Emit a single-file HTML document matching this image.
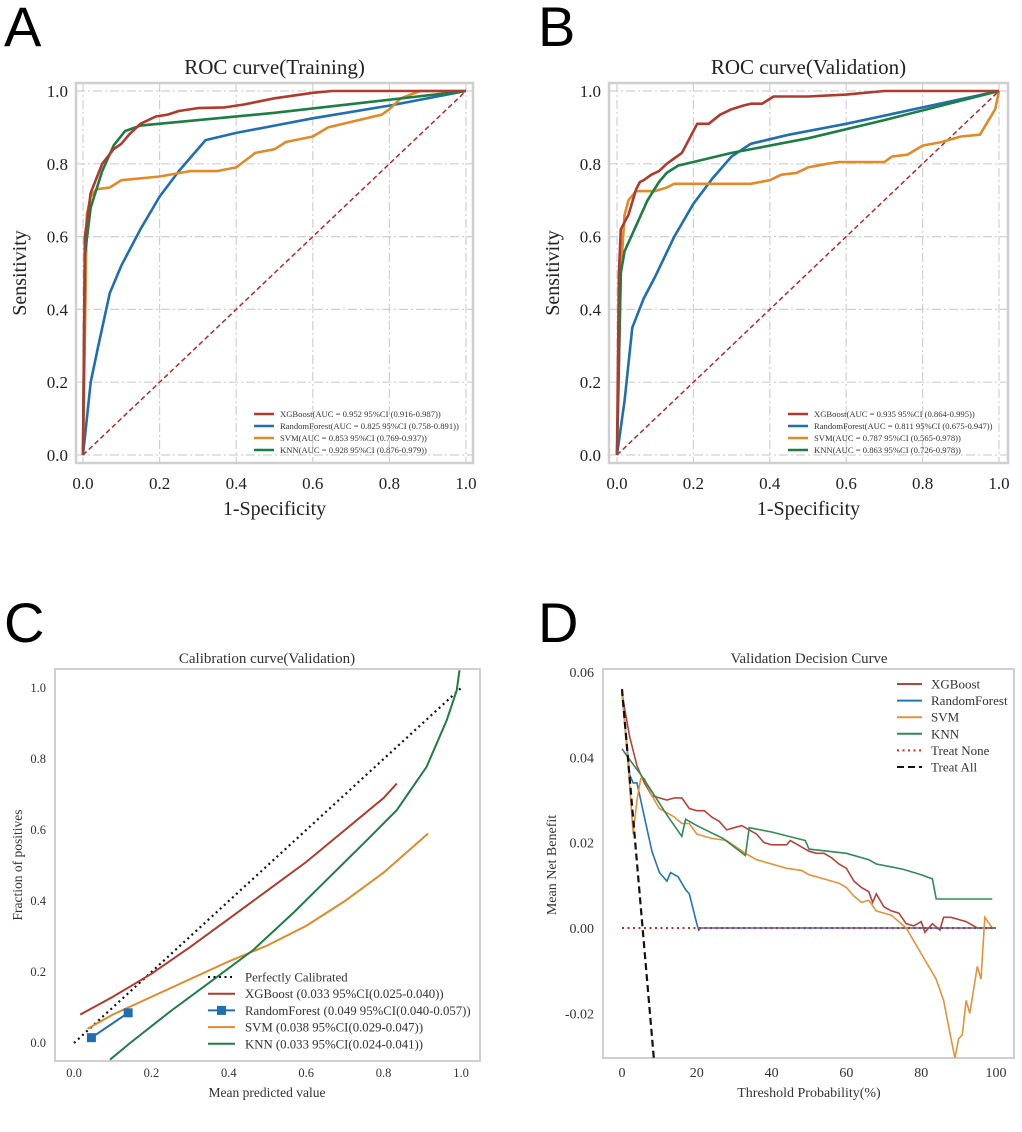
<!DOCTYPE html>
<html><head><meta charset="utf-8"><style>
body{margin:0;background:#fff;width:1022px;height:1132px;overflow:hidden}
svg{display:block;font-family:"Liberation Serif",serif}
</style></head><body>
<svg id="fig" width="1022" height="1132" viewBox="0 0 1022 1132"></svg>
<script>
// ---- Data arrays ----
const rocTicks=[0,0.2,0.4,0.6,0.8,1.0];
const rocTickLabels=["0.0","0.2","0.4","0.6","0.8","1.0"];
const aXGB_x=[0,0.005,0.02,0.05,0.08,0.1,0.12,0.15,0.19,0.22,0.25,0.3,0.37,0.42,0.5,0.6,0.65,1];
const aXGB_y=[0,0.6,0.72,0.8,0.84,0.855,0.88,0.91,0.93,0.935,0.945,0.953,0.955,0.963,0.98,0.995,1,1];
const aRF_x=[0,0.02,0.04,0.07,0.1,0.15,0.2,0.25,0.32,0.4,0.5,0.6,0.8,1];
const aRF_y=[0,0.2,0.3,0.445,0.52,0.62,0.71,0.78,0.865,0.885,0.905,0.925,0.96,1];
const aSVM_x=[0,0.01,0.02,0.035,0.07,0.1,0.2,0.28,0.35,0.4,0.45,0.5,0.53,0.6,0.64,0.7,0.78,0.8,0.83,0.88,1];
const aSVM_y=[0,0.66,0.71,0.73,0.735,0.755,0.765,0.78,0.78,0.79,0.83,0.84,0.86,0.875,0.9,0.915,0.935,0.95,0.98,1,1];
const aKNN_x=[0,0.005,0.02,0.05,0.08,0.11,0.15,0.5,1];
const aKNN_y=[0,0.55,0.68,0.78,0.85,0.89,0.905,0.94,1];
const bXGB_x=[0,0.005,0.01,0.03,0.05,0.06,0.07,0.09,0.11,0.13,0.15,0.17,0.19,0.21,0.24,0.27,0.3,0.33,0.35,0.38,0.41,0.5,0.6,0.7,1];
const bXGB_y=[0,0.5,0.62,0.66,0.73,0.75,0.755,0.77,0.78,0.8,0.815,0.83,0.87,0.91,0.91,0.935,0.95,0.96,0.965,0.965,0.985,0.985,0.99,1,1];
const bRF_x=[0,0.02,0.04,0.07,0.1,0.15,0.2,0.25,0.3,0.35,0.45,0.6,0.8,1];
const bRF_y=[0,0.15,0.35,0.43,0.49,0.6,0.69,0.76,0.82,0.855,0.88,0.91,0.955,1];
const bSVM_x=[0,0.01,0.02,0.03,0.05,0.1,0.13,0.15,0.35,0.4,0.43,0.47,0.5,0.55,0.58,0.7,0.72,0.76,0.8,0.85,0.9,0.95,0.99,1];
const bSVM_y=[0,0.5,0.66,0.7,0.725,0.725,0.735,0.745,0.745,0.755,0.77,0.775,0.79,0.8,0.805,0.805,0.82,0.825,0.85,0.86,0.875,0.88,0.95,1];
const bKNN_x=[0,0.01,0.02,0.05,0.08,0.11,0.13,0.16,0.3,0.5,0.7,1];
const bKNN_y=[0,0.5,0.56,0.63,0.7,0.75,0.775,0.795,0.83,0.87,0.92,1];
const aLegend=["XGBoost(AUC = 0.952 95%CI (0.916-0.987))","RandomForest(AUC = 0.825 95%CI (0.758-0.891))","SVM(AUC = 0.853 95%CI (0.769-0.937))","KNN(AUC = 0.928 95%CI (0.876-0.979))"];
const bLegend=["XGBoost(AUC = 0.935 95%CI (0.864-0.995))","RandomForest(AUC = 0.811 95%CI (0.675-0.947))","SVM(AUC = 0.787 95%CI (0.565-0.978))","KNN(AUC = 0.863 95%CI (0.726-0.978))"];
// Calibration
const calTicks=[0,0.2,0.4,0.6,0.8,1.0];
const calTickLabels=["0.0","0.2","0.4","0.6","0.8","1.0"];
const cPerf_x=[0,1]; const cPerf_y=[0,1];
const cXGB_x=[0.016,0.1,0.2,0.3,0.4,0.5,0.6,0.7,0.8,0.834];
const cXGB_y=[0.08,0.13,0.195,0.27,0.35,0.43,0.51,0.6,0.69,0.731];
const cRF_x=[0.045,0.14]; const cRF_y=[0.015,0.085];
const cSVM_x=[0.035,0.1,0.2,0.3,0.4,0.5,0.6,0.7,0.8,0.915];
const cSVM_y=[0.04,0.08,0.13,0.18,0.23,0.275,0.33,0.4,0.48,0.59];
const cKNN_x=[0.093,0.145,0.25,0.35,0.463,0.57,0.67,0.76,0.834,0.911,0.963,0.989,0.996];
const cKNN_y=[-0.047,0,0.09,0.17,0.262,0.37,0.478,0.575,0.656,0.778,0.909,0.993,1.05];
const cLegend=["Perfectly Calibrated","XGBoost (0.033 95%CI(0.025-0.040))","RandomForest (0.049 95%CI(0.040-0.057))","SVM (0.038 95%CI(0.029-0.047))","KNN (0.033 95%CI(0.024-0.041))"];
// Decision curve
const dXTicks=[0,20,40,60,80,100];
const dYTicks=[0.06,0.04,0.02,0.00,-0.02];
const dYTickLabels=["0.06","0.04","0.02","0.00","-0.02"];
const dXGB_x=[0,2,4,6,8,10,12,14,16,18,20,22,24,26,28,30,32,34,36,38,40,42,44,45,48,50,52,54,56,58,60,62,64,66,67,68,70,72,74,76,78,80,81,83,85,86,88,90,92,95,100];
const dXGB_y=[0.055,0.045,0.038,0.034,0.031,0.0305,0.030,0.0305,0.0305,0.028,0.0275,0.0275,0.026,0.025,0.023,0.0235,0.024,0.023,0.022,0.020,0.0195,0.0195,0.0195,0.0205,0.019,0.018,0.0175,0.0175,0.0165,0.015,0.014,0.011,0.0095,0.0085,0.006,0.008,0.005,0.004,0.0035,0.001,0.0005,0.0015,-0.001,0.001,-0.0005,0.0025,0.0025,0.002,0.0015,0,0];
const dRF_x=[0,2,3,4,6,8,10,12,13,15,17,18,20,20.5,21,100];
const dRF_y=[0.055,0.036,0.034,0.034,0.026,0.018,0.013,0.011,0.013,0.012,0.009,0.008,0.001,-0.0005,0,0];
const dSVM_x=[0,1.5,3,4,5,6,8,10,14,16,18,20,24,28,33,36,40,44,48,50,54,58,60,62,64,66,68,70,72,76,78,80,84,86,88,89,90,91,92,93,95,96,97,99];
const dSVM_y=[0.055,0.04,0.022,0.03,0.035,0.035,0.031,0.028,0.026,0.0245,0.0245,0.022,0.021,0.0205,0.0175,0.016,0.015,0.014,0.0135,0.0125,0.0115,0.0105,0.0095,0.0075,0.006,0.0065,0.004,0.0035,0.003,0,-0.003,-0.006,-0.012,-0.017,-0.026,-0.0305,-0.026,-0.025,-0.017,-0.02,-0.009,-0.012,0.0025,0];
const dKNN_x=[0,2,5,8,12,16,17,20,27,33,34,40,49,50,60,66,68,75,80,83,84,99];
const dKNN_y=[0.042,0.0395,0.036,0.032,0.0265,0.0215,0.0255,0.024,0.021,0.017,0.0235,0.0225,0.0205,0.0185,0.0175,0.016,0.015,0.0138,0.0125,0.0115,0.0068,0.0068];
const dNone_x=[0,100]; const dNone_y=[0,0];
const dAll_x=[0,8.5]; const dAll_y=[0.056,-0.0305];
const dLegend=["XGBoost","RandomForest","SVM","KNN","Treat None","Treat All"];

const NS="http://www.w3.org/2000/svg";
const fig=document.getElementById('fig');
function el(tag,attrs,parent,text){const e=document.createElementNS(NS,tag);for(const k in attrs)e.setAttribute(k,attrs[k]);if(text!==undefined)e.textContent=text;(parent||fig).appendChild(e);return e;}
function lin(d0,d1,r0,r1){return v=>r0+(v-d0)/(d1-d0)*(r1-r0);}
function pathD(xs,ys,sx,sy){return xs.map((x,i)=>(i?'L':'M')+sx(x).toFixed(1)+','+sy(ys[i]).toFixed(1)).join(' ');}

const RED='#b03a2e',BLUE='#1f6fb0',ORANGE='#e08a2a',GREEN='#1e7d45';

function roc(cfg){
  const g=el('g',{});
  
  
  const sx=lin(0,1,cfg.x0,cfg.x1), sy=lin(0,1,cfg.y0,cfg.y1);
  const clip='clip'+cfg.name;
  const cp=el('clipPath',{id:clip},g);el('rect',{x:cfg.fx0,y:cfg.fy0,width:cfg.fx1-cfg.fx0,height:cfg.fy1-cfg.fy0},cp);
  rocTicks.forEach(t=>{
    const v=el('line',{x1:sx(t),x2:sx(t),y1:cfg.fy0,y2:cfg.fy1,stroke:'#d0d0d0','stroke-width':1.2,'stroke-dasharray':'9,3,2,3'},g);
    
    const h=el('line',{x1:cfg.fx0,x2:cfg.fx1,y1:sy(t),y2:sy(t),stroke:'#d0d0d0','stroke-width':1.2,'stroke-dasharray':'9,3,2,3'},g);
    
  });
  const fr=el('rect',{x:cfg.fx0,y:cfg.fy0,width:cfg.fx1-cfg.fx0,height:cfg.fy1-cfg.fy0,fill:'none',stroke:'#cfcfcf','stroke-width':2.5},g);
  
  const dg=el('path',{d:pathD([0,1],[0,1],sx,sy),stroke:'#b22a2a','stroke-width':1.5,fill:'none','stroke-dasharray':'5,3'},g);
  
  const series=[[cfg.s[0],RED,'xgboost-curve'],[cfg.s[1],BLUE,'randomforest-curve'],[cfg.s[2],ORANGE,'svm-curve'],[cfg.s[3],GREEN,'knn-curve']];
  const order=[1,2,3,0];
  order.forEach(i=>{const [s,c,n]=series[i];
    const p=el('path',{d:pathD(s[0],s[1],sx,sy),stroke:c,'stroke-width':2.6,fill:'none','stroke-linejoin':'round','clip-path':'url(#'+clip+')'},g);
    });
  rocTicks.forEach((t,i)=>{
    const a=el('text',{x:sx(t),y:cfg.fy1+26,'font-size':17,'text-anchor':'middle',fill:'#222'},g,rocTickLabels[i]);
    
    const b=el('text',{x:cfg.fx0-8,y:sy(t)+6,'font-size':17,'text-anchor':'end',fill:'#222'},g,rocTickLabels[i]);
    
  });
  const t=el('text',{x:(cfg.fx0+cfg.fx1)/2,y:cfg.fy0-9,'font-size':21,'text-anchor':'middle',fill:'#222'},g,cfg.title);
  
  const xl=el('text',{x:(cfg.fx0+cfg.fx1)/2,y:cfg.fy1+52,'font-size':20,'text-anchor':'middle',fill:'#222'},g,'1-Specificity');
  
  const yx=cfg.fx0-50, yy=(cfg.fy0+cfg.fy1)/2;
  const yl=el('text',{x:yx,y:yy,'font-size':20,'text-anchor':'middle',fill:'#222',transform:`rotate(-90 ${yx} ${yy})`},g,'Sensitivity');
  
  [RED,BLUE,ORANGE,GREEN].forEach((c,i)=>{
    const yy2=cfg.ly+i*12;
    const l=el('line',{x1:cfg.lx,x2:cfg.lx+20,y1:yy2,y2:yy2,stroke:c,'stroke-width':2.6},g);
    
    const tx=el('text',{x:cfg.lx+26,y:yy2+3,'font-size':8.6,fill:'#333'},g,cfg.legend[i]);
    
  });
}
roc({name:'roc-training',x0:83,x1:466,y0:455,y1:91,fx0:76,fx1:473,fy0:83,fy1:463,title:'ROC curve(Training)',lx:254,ly:414,legend:aLegend,
  s:[[aXGB_x,aXGB_y],[aRF_x,aRF_y],[aSVM_x,aSVM_y],[aKNN_x,aKNN_y]]});
roc({name:'roc-validation',x0:617,x1:999,y0:455,y1:91,fx0:609,fx1:1008,fy0:83,fy1:463,title:'ROC curve(Validation)',lx:788,ly:414,legend:bLegend,
  s:[[bXGB_x,bXGB_y],[bRF_x,bRF_y],[bSVM_x,bSVM_y],[bKNN_x,bKNN_y]]});

// Calibration
(function(){
  const g=el('g',{});
  
  const fx0=55,fx1=480,fy0=669,fy1=1061;
  const sx=lin(0,1,74,461), sy=lin(0,1,1043,688);
  const cp=el('clipPath',{id:'clipC'},g);el('rect',{x:fx0,y:fy0,width:fx1-fx0,height:fy1-fy0},cp);
  const fr=el('rect',{x:fx0,y:fy0,width:fx1-fx0,height:fy1-fy0,fill:'none',stroke:'#cfcfcf','stroke-width':2},g);
  
  const p0=el('path',{d:pathD(cPerf_x,cPerf_y,sx,sy),stroke:'#111','stroke-width':2.2,fill:'none','stroke-dasharray':'2,3.5'},g);
  
  const p1=el('path',{d:pathD(cXGB_x,cXGB_y,sx,sy),stroke:RED,'stroke-width':2,fill:'none','clip-path':'url(#clipC)'},g);
  
  const p3=el('path',{d:pathD(cSVM_x,cSVM_y,sx,sy),stroke:ORANGE,'stroke-width':2,fill:'none','clip-path':'url(#clipC)'},g);
  
  const p4=el('path',{d:pathD(cKNN_x,cKNN_y,sx,sy),stroke:GREEN,'stroke-width':2,fill:'none','clip-path':'url(#clipC)'},g);
  
  const p2=el('path',{d:pathD(cRF_x,cRF_y,sx,sy),stroke:BLUE,'stroke-width':2,fill:'none'},g);
  
  cRF_x.forEach((x,i)=>{const m=el('rect',{x:sx(x)-4.5,y:sy(cRF_y[i])-4.5,width:9,height:9,fill:BLUE},g);
    });
  calTicks.forEach((t,i)=>{
    const a=el('text',{x:sx(t),y:1077,'font-size':12.5,'text-anchor':'middle',fill:'#333'},g,calTickLabels[i]);
    
    const b=el('text',{x:46,y:sy(t)+4,'font-size':12.5,'text-anchor':'end',fill:'#333'},g,calTickLabels[i]);
    
  });
  const t=el('text',{x:267,y:663,'font-size':15,'text-anchor':'middle',fill:'#333'},g,'Calibration curve(Validation)');
  
  const xl=el('text',{x:267,y:1097,'font-size':13.5,'text-anchor':'middle',fill:'#333'},g,'Mean predicted value');
  
  const yl=el('text',{x:22,y:865,'font-size':13.5,'text-anchor':'middle',fill:'#333',transform:'rotate(-90 22 865)'},g,'Fraction of positives');
  
  const cols=['#111',RED,BLUE,ORANGE,GREEN];
  cols.forEach((c,i)=>{const y=977+i*16.7;
    const l=el('line',{x1:208,x2:235,y1:y,y2:y,stroke:c,'stroke-width':2,'stroke-dasharray':i==0?'2,3.5':'none'},g);
    
    if(i==2){const m=el('rect',{x:217,y:y-4.5,width:9,height:9,fill:BLUE},g);}
    const tx=el('text',{x:245,y:y+4.5,'font-size':12.8,fill:'#333'},g,cLegend[i]);
    
  });
})();

// Decision curve
(function(){
  const g=el('g',{});
  
  const fx0=603,fx1=1014,fy0=669,fy1=1058;
  const sx=lin(0,100,622,996), sy=lin(0,0.06,928,672);
  const cp=el('clipPath',{id:'clipD'},g);el('rect',{x:fx0,y:fy0,width:fx1-fx0,height:fy1-fy0},cp);
  const fr=el('rect',{x:fx0,y:fy0,width:fx1-fx0,height:fy1-fy0,fill:'none',stroke:'#cfcfcf','stroke-width':2},g);
  
  const S=[[dXGB_x,dXGB_y,'#b8423a','xgboost-curve'],[dRF_x,dRF_y,'#2276b5','randomforest-curve'],[dSVM_x,dSVM_y,'#e6923a','svm-curve'],[dKNN_x,dKNN_y,'#2e8b57','knn-curve']];
  S.forEach(s=>{const p=el('path',{d:pathD(s[0],s[1],sx,sy),stroke:s[2],'stroke-width':1.6,fill:'none','clip-path':'url(#clipD)'},g);
    });
  const pn=el('path',{d:pathD(dNone_x,dNone_y,sx,sy),stroke:'#dd2222','stroke-width':2,fill:'none','stroke-dasharray':'2,3.5'},g);
  
  const pa=el('path',{d:pathD(dAll_x,dAll_y,sx,sy),stroke:'#111','stroke-width':2.2,fill:'none','stroke-dasharray':'7,4','clip-path':'url(#clipD)'},g);
  
  dXTicks.forEach(t=>{const a=el('text',{x:sx(t),y:1077,'font-size':14,'text-anchor':'middle',fill:'#333'},g,String(t));
    });
  dYTicks.forEach((t,i)=>{const b=el('text',{x:594,y:sy(t)+5,'font-size':14,'text-anchor':'end',fill:'#333'},g,dYTickLabels[i]);
    });
  const t=el('text',{x:809,y:663,'font-size':14.8,'text-anchor':'middle',fill:'#333'},g,'Validation Decision Curve');
  
  const xl=el('text',{x:809,y:1097,'font-size':14,'text-anchor':'middle',fill:'#333'},g,'Threshold Probability(%)');
  
  const yl=el('text',{x:556,y:865,'font-size':14,'text-anchor':'middle',fill:'#333',transform:'rotate(-90 556 865)'},g,'Mean Net Benefit');
  
  const cols=['#b8423a','#2276b5','#e6923a','#2e8b57','#dd2222','#111'];
  const dash=['none','none','none','none','2,3.5','7,4'];
  cols.forEach((c,i)=>{const y=684+i*16.6;
    const l=el('line',{x1:897,x2:922,y1:y,y2:y,stroke:c,'stroke-width':2,'stroke-dasharray':dash[i]},g);
    
    const tx=el('text',{x:931,y:y+4.5,'font-size':13,fill:'#333'},g,dLegend[i]);
    
  });
})();

// Panel letters
[['A',4,46,'panel-label-a'],['B',538,46,'panel-label-b'],['C',4,642,'panel-label-c'],['D',538,642,'panel-label-d']].forEach(p=>{
  const t=el('text',{x:p[1],y:p[2],'font-size':56,fill:'#000','font-family':'Liberation Sans, sans-serif'},fig,p[0]);
  
});
</script>
</body></html>
